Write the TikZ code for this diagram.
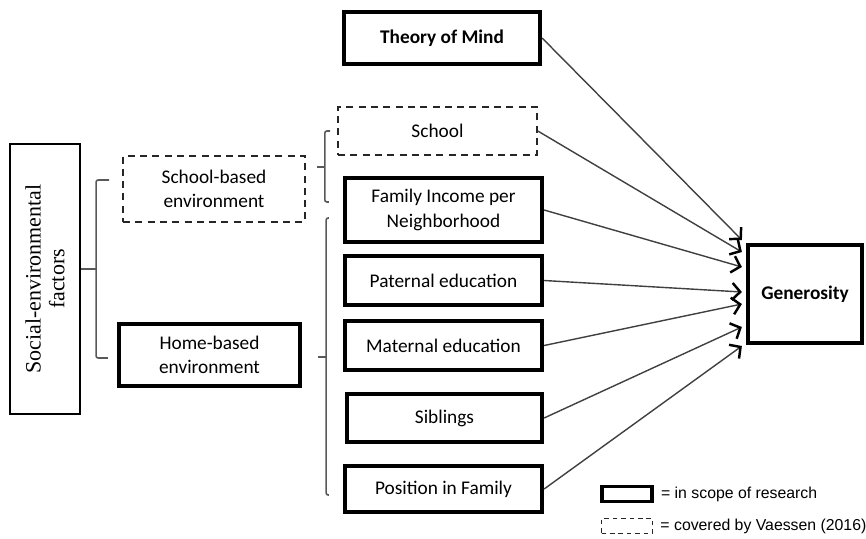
\documentclass[tikz,border=0pt]{standalone}
\usepackage{fontspec}
\setmainfont{Carlito}
\newfontfamily\keyfont{Liberation Sans}
\newfontfamily\factorfont{Liberation Serif}
\usetikzlibrary{arrows.meta,positioning}
\tikzset{
  inbox/.style={rectangle, draw=black, line width=2.4pt, align=center,
                font=\fontsize{11}{14}\selectfont, inner sep=1pt},
  vbox/.style={rectangle, draw=black!85, line width=0.9pt, dash pattern=on 4pt off 3pt,
               align=center, font=\fontsize{11}{14}\selectfont, inner sep=1pt},
  ar/.style={-{Straight Barb[length=1.6mm,width=3.4mm,line width=1.4pt,color=black]},
             draw=black!75, line width=0.8pt},
  brk/.style={draw=black!65, line width=0.9pt, rounded corners=1.2pt},
  key/.style={font=\keyfont\fontsize{9}{11}\selectfont, anchor=west, inner sep=0pt},
}

\begin{document}
\begin{tikzpicture}
\useasboundingbox (0,0) rectangle (17.32,-10.76);

% ===================== factors on the left ================================
\node[rectangle, draw=black, line width=1.2pt, rotate=90, minimum width=5.40cm,
      minimum height=1.40cm, align=center, font=\factorfont\fontsize{12.5}{13.5}\selectfont]
  (sef) at (0.90,-5.58) {Social-environmental\\factors};

\node[vbox, minimum width=3.64cm, minimum height=1.32cm] (sbe) at (4.28,-3.78)
  {School-based\\environment};
\node[inbox, minimum width=3.62cm, minimum height=1.24cm] (hbe) at (4.19,-7.10)
  {Home-based\\environment};

% bracket: factors -> the two environments (sef is rotated, so its right side is .south)
\draw[brk] ([yshift=2mm]sef.south) -- ++(3mm,0);
\draw[brk] ([xshift=-2.6mm,yshift=1.8mm]sbe.west) -| ([xshift=3mm,yshift=2mm]sef.south)
  |- ([xshift=-1.8mm,yshift=-0.6mm]hbe.west);

% ===================== predictors ========================================
\node[inbox, minimum width=3.92cm, minimum height=1.04cm, font=\fontsize{11}{14}\selectfont\bfseries]
  (tom) at (8.84,-0.76) {Theory of Mind};
\node[vbox, minimum width=3.98cm, minimum height=0.96cm] (sch) at (8.75,-2.62) {School};
\node[inbox, minimum width=3.94cm, minimum height=1.28cm] (fin) at (8.87,-4.20)
  {Family Income per\\Neighborhood};
\node[inbox, minimum width=3.94cm, minimum height=0.98cm] (pat) at (8.87,-5.61) {Paternal education};
\node[inbox, minimum width=3.94cm, minimum height=0.98cm] (mat) at (8.87,-6.91) {Maternal education};
\node[inbox, minimum width=3.90cm, minimum height=0.96cm] (sib) at (8.89,-8.36) {Siblings};
\node[inbox, minimum width=3.94cm, minimum height=0.92cm] (pos) at (8.87,-9.78) {Position in Family};

% bracket: school-based environment -> school
\draw[brk] ([xshift=2.2mm,yshift=4.4mm]sbe.east) -- ++(1.6mm,0);
\draw[brk] ([xshift=-1.4mm]sch.west) -| ([xshift=3.8mm,yshift=4.4mm]sbe.east)
  |- ([xshift=-2.8mm,yshift=1.6mm]fin.west);

% bracket: home-based environment -> home factors
\draw[brk] ([xshift=3.2mm,yshift=-0.4mm]hbe.east) -- ++(1.6mm,0);
\draw[brk] ([xshift=-2.8mm,yshift=-1.6mm]fin.west) -| ([xshift=4.8mm,yshift=-0.4mm]hbe.east)
  |- ([xshift=-2.8mm,yshift=-1.2mm]pos.west);

% ===================== outcome ===========================================
\node[inbox, minimum width=2.28cm, minimum height=1.96cm, font=\fontsize{11}{14}\selectfont\bfseries]
  (gen) at (16.10,-5.88) {Generosity};

\foreach \src/\dy in {tom/10.8,sch/8.4,fin/5.4,pat/0.4,mat/-2.0,sib/-6.6,pos/-10.4}
  \draw[ar] (\src.east) -- ([xshift=-0.8mm,yshift=\dy mm]gen.west);

% ===================== key ===============================================
\node[inbox, line width=2pt, minimum width=1.00cm, minimum height=0.30cm, inner sep=0pt]
  (k1) at (12.54,-9.88) {};
\node[key, right=1.4mm of k1] (k1t) {= in scope of research};
\node[vbox, line width=0.7pt, dash pattern=on 2.6pt off 2.2pt, minimum width=1.02cm,
      minimum height=0.30cm, inner sep=0pt] (k2) at (12.54,-10.52) {};
\node[key, right=1.4mm of k2] (k2t) {= covered by Vaessen (2016)};

\end{tikzpicture}
\end{document}
